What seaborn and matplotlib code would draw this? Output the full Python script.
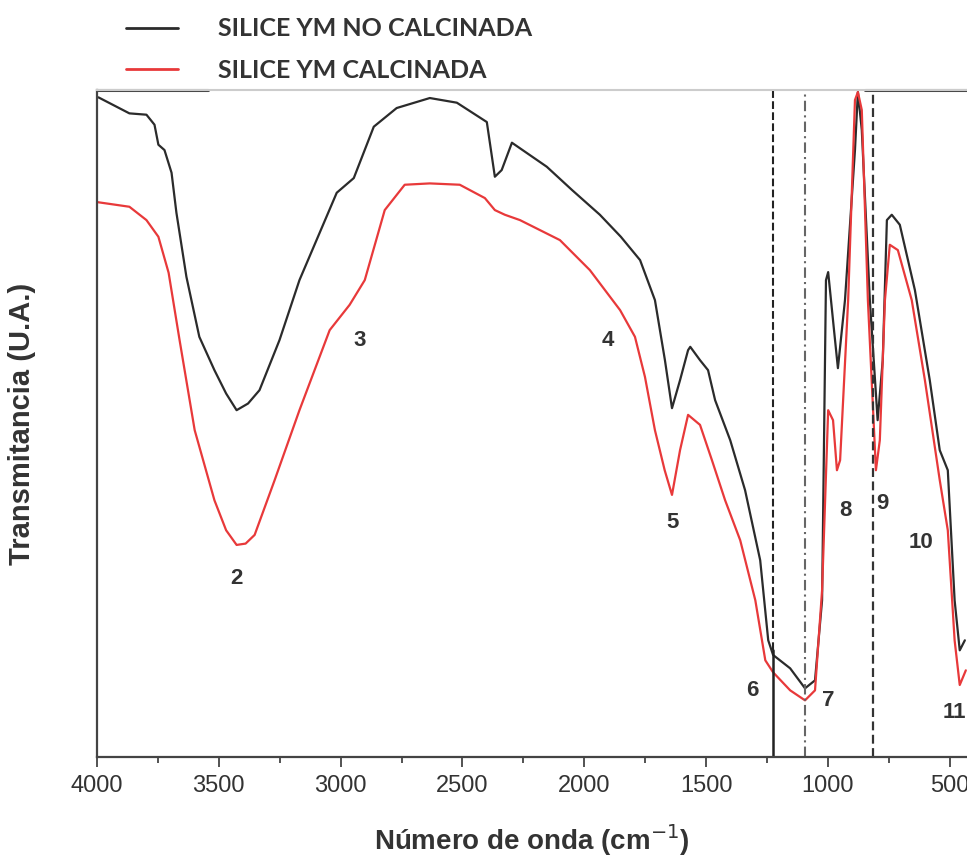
"""FTIR spectra of silica YM, calcined vs not calcined."""

import matplotlib
matplotlib.use("Agg")
import matplotlib.pyplot as plt
from matplotlib.ticker import MultipleLocator, NullFormatter
import numpy as np
import pandas as pd
import seaborn as sns

# wavenumber (cm-1) / transmittance (a.u.)
wn_raw = [3994, 3867, 3797, 3764, 3748, 3723, 3694, 3674, 3633, 3580, 3518, 3470,
          3427, 3380, 3333, 3251, 3169, 3016, 2946, 2864, 2770, 2634, 2523, 2400,
          2367, 2339, 2297, 2154, 2050, 1936, 1850, 1771, 1710, 1669, 1640, 1607,
          1574, 1565, 1525, 1492, 1463, 1401, 1340, 1278, 1245, 1225, 1155, 1094,
          1053, 1024, 1008, 999, 975, 959, 930, 889, 877, 861, 828, 796, 775, 758,
          738, 705, 643, 582, 541, 508, 480, 459, 438]
t_raw = [98.9, 96.5, 96.3, 94.8, 91.8, 91.0, 87.6, 81.6, 72.0, 63.0, 58.0, 54.5,
         52.0, 53.0, 55.0, 62.5, 71.5, 84.6, 86.8, 94.5, 97.3, 98.8, 98.1, 95.2,
         87.0, 88.0, 92.1, 88.5, 85.0, 81.3, 78.0, 74.5, 68.5, 59.5, 52.3, 56.5,
         61.0, 61.5, 59.5, 58.0, 53.5, 47.5, 40.0, 29.5, 17.5, 15.3, 13.3, 10.3,
         11.5, 23.5, 71.5, 72.7, 64.0, 58.3, 68.5, 91.0, 99.7, 94.0, 68.5, 50.5,
         59.5, 80.5, 81.3, 79.8, 70.0, 56.5, 46.0, 43.0, 23.5, 16.0, 17.5]

wn_calc = [4000, 3867, 3797, 3748, 3706, 3661, 3599, 3518, 3470, 3427, 3390, 3353,
           3271, 3169, 3045, 2963, 2901, 2819, 2737, 2634, 2511, 2408, 2367, 2326,
           2264, 2100, 1977, 1915, 1853, 1792, 1751, 1710, 1670, 1640, 1607, 1574,
           1525, 1476, 1422, 1360, 1298, 1257, 1225, 1155, 1094, 1053, 1024, 999,
           979, 963, 950, 917, 889, 877, 861, 836, 803, 787, 766, 746, 713, 656,
           602, 541, 508, 480, 459, 434]
t_calc = [83.2, 82.5, 80.5, 78.0, 72.6, 62.5, 49.0, 38.5, 34.0, 31.8, 32.0, 33.3,
          41.5, 52.0, 64.0, 67.8, 71.5, 82.0, 85.8, 86.0, 85.8, 83.8, 82.0, 81.3,
          80.5, 77.5, 73.0, 70.0, 67.0, 63.0, 57.0, 49.0, 43.0, 39.3, 46.0, 51.3,
          49.8, 44.5, 38.5, 32.5, 23.5, 14.5, 12.7, 10.0, 8.5, 10.0, 25.0, 52.0,
          50.5, 43.0, 44.5, 68.5, 98.5, 99.7, 97.0, 68.5, 43.0, 47.5, 68.5, 76.8,
          76.0, 68.5, 56.5, 41.5, 34.0, 17.5, 10.8, 13.0]

series_names = ["SILICE YM NO CALCINADA", "SILICE YM CALCINADA"]
series_colors = ["#2b2b2b", "#e8393a"]

band_labels = ["2", "3", "4", "5", "6", "7", "8", "9", "10", "11"]
band_x = [3427, 2921, 1903, 1636, 1311, 999, 930, 775, 619, 480]
band_y = [26.8, 62.4, 62.4, 35.2, 10.0, 8.5, 37.0, 38.0, 32.2, 6.7]

ref_lines = [1225, 1094, 814]

xticks = [4000, 3500, 3000, 2500, 2000, 1500, 1000, 500]


def main() -> None:
    sns.set_style("ticks")
    plt.rcParams["font.family"] = ["Liberation Sans", "DejaVu Sans"]

    df = pd.concat([
        pd.DataFrame({"wn": wn_raw, "T": t_raw, "muestra": series_names[0]}),
        pd.DataFrame({"wn": wn_calc, "T": t_calc, "muestra": series_names[1]}),
    ])

    fig = plt.figure(figsize=(9.67, 8.59), dpi=100)
    ax = fig.add_axes([0.1003, 0.1187, 0.9, 0.7765])

    sns.lineplot(data=df, x="wn", y="T", hue="muestra", palette=series_colors,
                 estimator=None, sort=False, linewidth=1.6, ax=ax, legend=False)

    ax.set_xlim(4000, 428)
    ax.set_ylim(0, 100)

    # reference bands
    ax.axvline(ref_lines[0], ymin=0.16, ymax=1, color="#222222", ls="--", lw=1.5)
    ax.axvline(ref_lines[0], ymin=0, ymax=0.16, color="#222222", ls="-", lw=1.8)
    ax.axvline(ref_lines[1], color="#666666", ls=(0, (5, 2, 1, 2)), lw=1.5)
    ax.axvline(ref_lines[2], color="#333333", ls=(0, (4, 2)), lw=1.6)

    for lab, bx, by in zip(band_labels, band_x, band_y):
        ax.text(bx, by, lab, ha="center", va="center", fontsize=16,
                fontweight="bold", color="#333333", clip_on=False)

    ax.xaxis.set_major_locator(plt.FixedLocator(xticks))
    ax.xaxis.set_minor_locator(MultipleLocator(250))
    ax.set_xticklabels([str(t) for t in xticks], fontsize=17, color="#333333")
    ax.tick_params(axis="x", which="major", direction="out", length=7, width=1.3,
                   color="#444444", pad=6)
    ax.tick_params(axis="x", which="minor", direction="out", length=4, width=1.3,
                   color="#444444")
    ax.set_yticks([])
    ax.yaxis.set_minor_formatter(NullFormatter())

    ax.spines["right"].set_visible(False)
    ax.spines["top"].set_color("#cccccc")
    ax.spines["top"].set_linewidth(1.5)
    for side in ["left", "bottom"]:
        ax.spines[side].set_color("#444444")
        ax.spines[side].set_linewidth(1.6)
    # dark pieces of the frame along the top
    ax.axhline(100, xmin=0, xmax=0.127, color="#444444", lw=2.2, clip_on=False)
    ax.axhline(100, xmin=0.883, xmax=1, color="#444444", lw=2.2, clip_on=False)

    ax.set_xlabel("Número de onda (cm$^{-1}$)", fontsize=20, fontweight="bold",
                  color="#333333", labelpad=18)
    ax.set_ylabel("Transmitancia (U.A.)", fontsize=21, fontweight="bold",
                  color="#333333", labelpad=44)

    handles = [plt.Line2D([], [], color=c, lw=2) for c in series_colors]
    fig.legend(handles, series_names, loc="upper left",
               bbox_to_anchor=(0.107, 1.006), frameon=False,
               prop={"family": "Lato", "size": 18, "weight": "bold"},
               labelcolor="#333333",
               handlelength=2.1, handletextpad=1.6, labelspacing=0.75)

    fig.savefig("out.png", dpi=100)
    plt.close(fig)


if __name__ == "__main__":
    main()
